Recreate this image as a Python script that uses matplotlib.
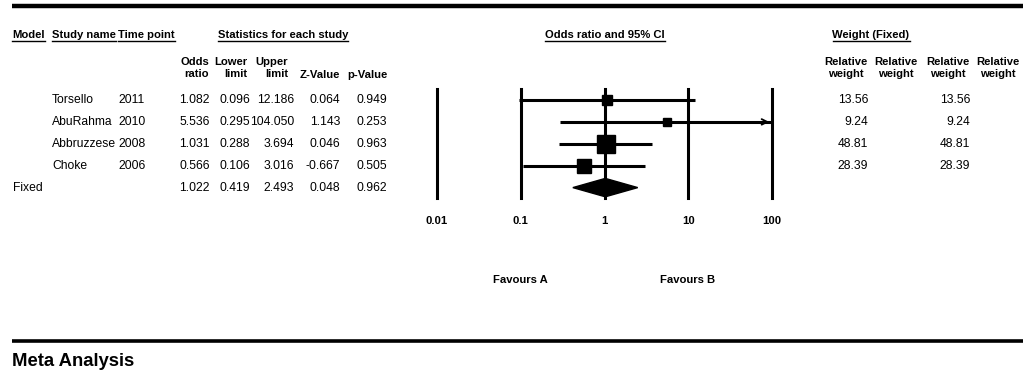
import numpy as np
import matplotlib
matplotlib.use("Agg")
import matplotlib.pyplot as plt

plt.rcParams['font.family'] = ['Liberation Sans', 'DejaVu Sans']

# data
studies = ['Torsello', 'AbuRahma', 'Abbruzzese', 'Choke']
years = ['2011', '2010', '2008', '2006']
odds = [1.082, 5.536, 1.031, 0.566]
lower = [0.096, 0.295, 0.288, 0.106]
upper = [12.186, 104.050, 3.694, 3.016]
zval = [0.064, 1.143, 0.046, -0.667]
pval = [0.949, 0.253, 0.963, 0.505]
weights = [13.56, 9.24, 48.81, 28.39]
fixed_label = 'Fixed'
fixed_stats = [1.022, 0.419, 2.493, 0.048, 0.962]
axis_ticks = [0.01, 0.1, 1, 10, 100]
axis_labels = ['0.01', '0.1', '1', '10', '100']

W, H = 1028, 376
fig = plt.figure(figsize=(W / 100, H / 100), dpi=100)

# background axes in pixel coords for table text
bg = fig.add_axes([0, 0, 1, 1])
bg.set_xlim(0, W)
bg.set_ylim(H, 0)
bg.axis('off')

fs = 8.7
bfs = 8.1
row_y = [100 + 21.9 * i for i in range(5)]

bg.plot([12, 1023], [6, 6], color='black', lw=3.2, solid_capstyle='butt')
bg.plot([12, 1023], [341, 341], color='black', lw=2.6, solid_capstyle='butt')
bg.text(12, 361, 'Meta Analysis', fontsize=13.3, fontweight='bold', va='center', ha='left')

# underlined headers
headers = [(12, 'left', 'Model'), (52, 'left', 'Study name'), (118, 'left', 'Time point'),
           (283, 'center', 'Statistics for each study'),
           (605, 'center', 'Odds ratio and 95% CI'),
           (871, 'center', 'Weight (Fixed)')]
htexts = []
for x, ha, s in headers:
    htexts.append(bg.text(x, 35, s, fontsize=bfs, fontweight='bold', ha=ha, va='center'))

# column headers
col_heads = [(209, 'Odds\nratio', 68), (247, 'Lower\nlimit', 68), (288, 'Upper\nlimit', 68),
             (340, 'Z-Value', 75), (388, 'p-Value', 75)]
for x, s, y in col_heads:
    bg.text(x, y, s, fontsize=bfs, fontweight='bold', ha='right', va='center',
            linespacing=1.2, multialignment='right')
for x in [846, 896, 948, 998]:
    bg.text(x, 68, 'Relative\nweight', fontsize=bfs, fontweight='bold', ha='center', va='center',
            linespacing=1.2)

# table rows
for i in range(4):
    y = row_y[i]
    bg.text(52, y, studies[i], fontsize=fs, va='center')
    bg.text(118, y, years[i], fontsize=fs, va='center')
    for x, v in zip([210, 250, 294, 340, 387], [odds[i], lower[i], upper[i], zval[i], pval[i]]):
        bg.text(x, y, f'{v:.3f}', fontsize=fs, va='center', ha='right')
    bg.text(868, y, f'{weights[i]:.2f}', fontsize=fs, va='center', ha='right')
    bg.text(970, y, f'{weights[i]:.2f}', fontsize=fs, va='center', ha='right')
bg.text(13, row_y[4], fixed_label, fontsize=fs, va='center')
for x, v in zip([210, 250, 294, 340, 387], fixed_stats):
    bg.text(x, row_y[4], f'{v:.3f}', fontsize=fs, va='center', ha='right')

bg.text(520, 280, 'Favours A', fontsize=bfs, fontweight='bold', ha='center', va='center')
bg.text(688, 280, 'Favours B', fontsize=bfs, fontweight='bold', ha='center', va='center')

# forest axes
x0, x1, y0, y1 = 437, 772, 89, 198
ax = fig.add_axes([x0 / W, 1 - y1 / H, (x1 - x0) / W, (y1 - y0) / H])
ax.set_xscale('log')
ax.set_xlim(0.01, 100)
top = (y0 - 100) / 21.9
bot = (y1 - 100) / 21.9
ax.set_ylim(bot, top)
ax.patch.set_alpha(0)
for sp in ax.spines.values():
    sp.set_visible(False)
ax.set_yticks([])
ax.set_xticks(axis_ticks)
ax.set_xticklabels(axis_labels, fontsize=bfs, fontweight='bold')
ax.tick_params(axis='x', length=0, pad=13)
ax.minorticks_off()

for t in axis_ticks:
    ax.axvline(t, color='black', lw=2.2, clip_on=False)

for i in range(4):
    hi = min(upper[i], 100)
    ax.plot([lower[i], hi], [i, i], color='black', lw=2.2, clip_on=False, solid_capstyle='butt')
    if upper[i] > 100:
        ax.annotate('', xy=(100, i), xytext=(60, i),
                    arrowprops=dict(arrowstyle='->', color='black', lw=1.3, mutation_scale=10))
    ms = 2.6 * np.sqrt(weights[i]) * 0.72
    ax.plot(odds[i], i, marker='s', ms=ms, color='black', clip_on=False)

fo, fl, fu = fixed_stats[0], fixed_stats[1], fixed_stats[2]
ax.fill([fl, fo, fu, fo], [4, 4 - 0.42, 4, 4 + 0.42], color='black', clip_on=False, zorder=3)

# underline headers
fig.canvas.draw()
r = fig.canvas.get_renderer()
for t in htexts:
    bb = t.get_window_extent(r)
    yl = H - bb.y0 + 1
    bg.plot([bb.x0, bb.x1], [yl, yl], color='black', lw=1.0)

fig.savefig('out.png', dpi=100)
